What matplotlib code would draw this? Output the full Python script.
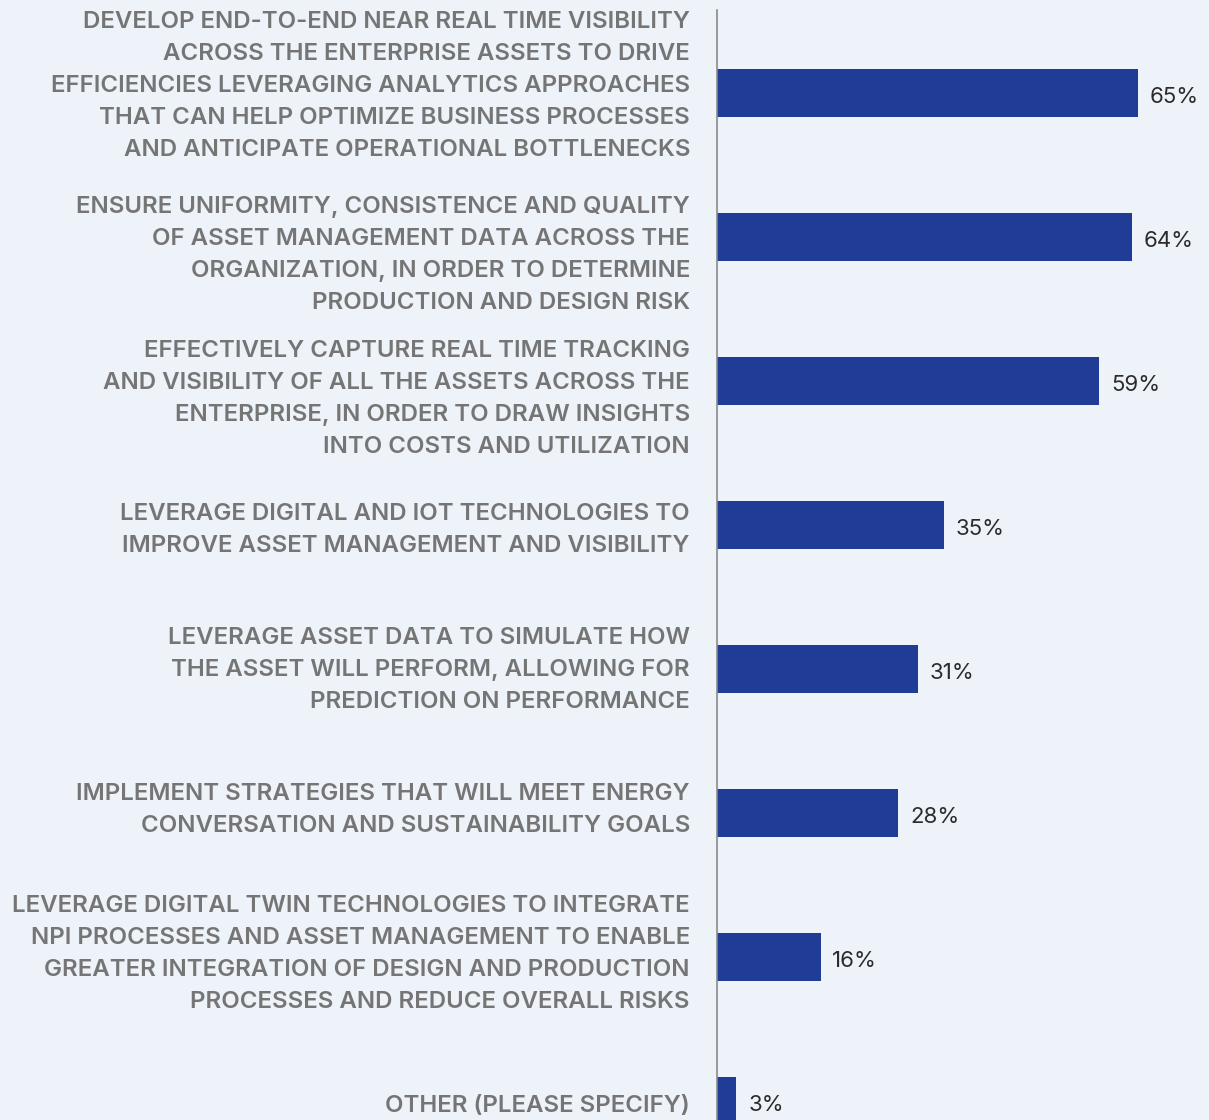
import matplotlib.pyplot as plt

plt.rcParams['font.family'] = ['Inter', 'DejaVu Sans']

labels = [
    "DEVELOP END-TO-END NEAR REAL TIME VISIBILITY\nACROSS THE ENTERPRISE ASSETS TO DRIVE\nEFFICIENCIES LEVERAGING ANALYTICS APPROACHES\nTHAT CAN HELP OPTIMIZE BUSINESS PROCESSES\nAND ANTICIPATE OPERATIONAL BOTTLENECKS",
    "ENSURE UNIFORMITY, CONSISTENCE AND QUALITY\nOF ASSET MANAGEMENT DATA ACROSS THE\nORGANIZATION, IN ORDER TO DETERMINE\nPRODUCTION AND DESIGN RISK",
    "EFFECTIVELY CAPTURE REAL TIME TRACKING\nAND VISIBILITY OF ALL THE ASSETS ACROSS THE\nENTERPRISE, IN ORDER TO DRAW INSIGHTS\nINTO COSTS AND UTILIZATION",
    "LEVERAGE DIGITAL AND IOT TECHNOLOGIES TO\nIMPROVE ASSET MANAGEMENT AND VISIBILITY",
    "LEVERAGE ASSET DATA TO SIMULATE HOW\nTHE ASSET WILL PERFORM, ALLOWING FOR\nPREDICTION ON PERFORMANCE",
    "IMPLEMENT STRATEGIES THAT WILL MEET ENERGY\nCONVERSATION AND SUSTAINABILITY GOALS",
    "LEVERAGE DIGITAL TWIN TECHNOLOGIES TO INTEGRATE\nNPI PROCESSES AND ASSET MANAGEMENT TO ENABLE\nGREATER INTEGRATION OF DESIGN AND PRODUCTION\nPROCESSES AND REDUCE OVERALL RISKS",
    "OTHER (PLEASE SPECIFY)",
]
values = [65, 64, 59, 35, 31, 28, 16, 3]

# small vertical nudges (in pixels) so the label blocks sit like the original
nudge_px = [-7, 18, 18, 5, 1, -3, -3, 5]

BG = "#EEF2F9"
BAR = "#213C94"
W, H = 1209, 1120
step = 144.0  # px between bar centres
first = 93.0  # px of first bar centre

fig = plt.figure(figsize=(W / 100, H / 100), dpi=100, facecolor=BG)
ax = fig.add_axes([717 / W, 0, (W - 717) / W, (H - 10) / H])
ax.set_facecolor(BG)

ypos = list(range(len(values)))
ax.barh(ypos, values, height=48 / step, color=BAR, zorder=2)

ax.set_xlim(0, (W - 717) / 6.48)
ax.set_ylim((H - first) / step, -(first - 10) / step)

for y, v in zip(ypos, values):
    ax.text(v + 1.8, y + 4 / step, f"{v}%", va="center", ha="left",
            fontsize=16, color="#2B2B2B")

for y, lab, n in zip(ypos, labels, nudge_px):
    ax.text(-27 / 6.48, y + n / step, lab, va="center", ha="right",
            fontsize=17.3, fontweight="semibold", color="#757575",
            linespacing=1.59, clip_on=False)

for s in ["top", "right", "bottom"]:
    ax.spines[s].set_visible(False)
ax.spines["left"].set_color("#8A8A8A")
ax.spines["left"].set_linewidth(1.2)
ax.set_xticks([])
ax.set_yticks([])

fig.savefig("out.png", dpi=100, facecolor=BG)
